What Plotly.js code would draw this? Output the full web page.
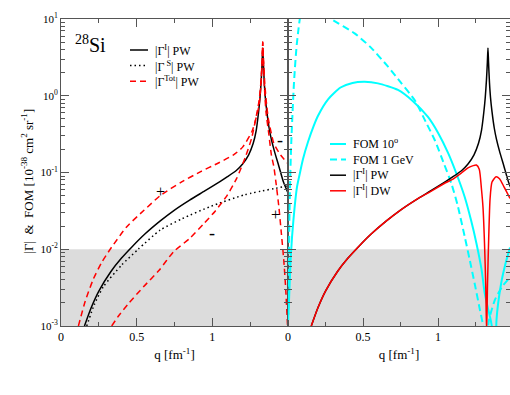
<!DOCTYPE html>
<html>
<head>
<meta charset="utf-8">
<script src="https://cdn.plot.ly/plotly-3.0.1.min.js"></script>
<style>
  body { margin: 0; background: #fff; }
  #myDiv { width: 510px; height: 395px; }
</style>
</head>
<body>
<div id="myDiv"></div>
<script>
// |Gamma^I| plane wave (both panels)
var qPW = [0.155, 0.2, 0.25, 0.33, 0.4, 0.47, 0.556, 0.656, 0.75, 0.85, 0.95, 1.05, 1.1, 1.16, 1.2, 1.24, 1.27, 1.29,
  1.305, 1.315, 1.323, 1.329, 1.333, 1.337, 1.343, 1.35, 1.36, 1.375, 1.39, 1.41, 1.44, 1.47, 1.5];
var gPW = [0.001, 0.00174, 0.00285, 0.00513, 0.00767, 0.0108, 0.0159, 0.0234, 0.0324, 0.0437, 0.0575, 0.0759, 0.0881, 0.107, 0.129, 0.17, 0.24, 0.355,
  0.6, 0.95, 1.6, 2.7, 4.2, 2.7, 1.5, 0.95, 0.62, 0.38, 0.27, 0.19, 0.12, 0.075, 0.054];

// |Gamma^S| plane wave
var qS = [0.17, 0.22, 0.28, 0.4, 0.51, 0.656, 0.8, 0.987, 1.21, 1.5];
var gS = [0.001, 0.0019, 0.00325, 0.0062, 0.01, 0.0178, 0.025, 0.036, 0.051, 0.067];

// |Gamma^Tot| plane wave, "+" branch
var qTotP = [0.115, 0.16, 0.214, 0.27, 0.325, 0.435, 0.55, 0.656, 0.8, 0.92, 1.04, 1.14, 1.2, 1.263, 1.307, 1.32, 1.328, 1.333,
  1.338, 1.345, 1.355, 1.373, 1.39, 1.406, 1.42, 1.44, 1.455, 1.472, 1.485, 1.495, 1.5];
var gTotP = [0.001, 0.0021, 0.0041, 0.0068, 0.01, 0.0197, 0.0324, 0.05, 0.0759, 0.102, 0.133, 0.17, 0.214, 0.347, 0.72, 1.3, 2.6, 5.0,
  2.6, 1.2, 0.6, 0.32, 0.17, 0.12, 0.075, 0.035, 0.017, 0.0072, 0.003, 0.0012, 0.0008];

// |Gamma^Tot| plane wave, "-" branch
var qTotM = [0.335, 0.38, 0.45, 0.545, 0.65, 0.744, 0.85, 0.942, 1.02, 1.097, 1.16, 1.218, 1.26, 1.285, 1.31, 1.322, 1.329, 1.333,
  1.338, 1.345, 1.355, 1.37, 1.39, 1.406, 1.45, 1.5];
var gTotM = [0.001, 0.00135, 0.002, 0.00324, 0.00537, 0.0093, 0.0138, 0.0214, 0.0316, 0.0501, 0.0832, 0.158, 0.282, 0.479, 0.891, 1.585, 2.82, 5.0,
  3.0, 1.6, 0.9, 0.5, 0.32, 0.24, 0.17, 0.13];

// FOM 10 deg
var qF10 = [0.003, 0.02, 0.036, 0.06, 0.08, 0.1, 0.133, 0.17, 0.2, 0.267, 0.35, 0.43, 0.511, 0.6, 0.733, 0.833, 0.933, 1.0, 1.067,
  1.12, 1.178, 1.22, 1.256, 1.29, 1.311, 1.33, 1.355, 1.37, 1.378, 1.385, 1.39, 1.42, 1.45, 1.48];
var fF10 = [0.0014, 0.009, 0.024, 0.065, 0.1, 0.15, 0.25, 0.4, 0.55, 0.9, 1.28, 1.47, 1.52, 1.45, 1.19, 0.85, 0.53, 0.33, 0.18,
  0.1, 0.048, 0.024, 0.012, 0.0055, 0.0027, 0.0018, 0.0011, 0.0006, 0.00001, 0.0001, 0.0012, 0.0035, 0.0065, 0.0105];

// FOM 1 GeV
var qF1 = [0.002, 0.01, 0.02, 0.04, 0.06, 0.1, 0.15, 0.2, 0.289, 0.444, 0.55, 0.667, 0.75, 0.844, 0.92, 0.978, 1.04,
  1.089, 1.13, 1.178, 1.21, 1.244, 1.28, 1.3, 1.312, 1.325, 1.34, 1.38, 1.43, 1.48];
var fF1 = [0.0012, 0.03, 0.2, 1.5, 5, 15, 16, 14.5, 10, 6.5, 4.3, 2.39, 1.5, 0.88, 0.45, 0.265, 0.13,
  0.072, 0.038, 0.0146, 0.0075, 0.0036, 0.0016, 0.001, 0.00001, 0.0006, 0.0012, 0.0022, 0.0033, 0.0043];

// |Gamma^I| distorted wave
var qDW = [0.155, 0.2, 0.25, 0.33, 0.4, 0.47, 0.556, 0.656, 0.75, 0.85, 0.95, 1.05, 1.1, 1.16, 1.2, 1.235, 1.256, 1.275,
  1.29, 1.3, 1.31, 1.318, 1.324, 1.33, 1.338, 1.347, 1.36, 1.387, 1.41, 1.44, 1.48];
var gDW = [0.001, 0.00174, 0.00285, 0.00513, 0.00767, 0.0108, 0.0159, 0.0234, 0.0324, 0.0437, 0.0565, 0.0735, 0.082, 0.1, 0.115, 0.123, 0.125, 0.11,
  0.06, 0.035, 0.012, 0.0035, 0.0008, 0.0035, 0.014, 0.045, 0.075, 0.088, 0.083, 0.065, 0.046];

var yTickVals = [0.001, 0.01, 0.1, 1, 10];
var yTickText = ['10<sup>-3</sup>', '10<sup>-2</sup>', '10<sup>-1</sup>', '10<sup>0</sup>', '10<sup>1</sup>'];

// legend labels
var leftNames = ['|Γ<sup>I</sup>| PW', '|Γ<sup> S</sup>| PW', '|Γ<sup>Tot</sup>| PW'];
var rightNames = ['FOM 10<sup>o</sup>', 'FOM 1 GeV', '|Γ<sup>I</sup>| PW', '|Γ<sup>I</sup>| DW'];

var serif = 'Liberation Serif, Times New Roman, serif';
var axisCol = '#555';

var stBlack = { color: 'black', width: 1.5 };
var stDot = { color: 'black', width: 1.5, dash: '1.5px,3px' };
var stRedDash = { color: 'red', width: 1.5, dash: '6px,4px' };
var stCyan = { color: '#00ffff', width: 2 };
var stCyanDash = { color: '#00ffff', width: 2, dash: '7px,4px' };
var stRed = { color: 'red', width: 1.5 };

function tr(x, y, ax, st) {
  return { x: x, y: y, xaxis: 'x' + ax, yaxis: 'y' + ax, mode: 'lines', showlegend: false,
    line: Object.assign({ shape: 'spline', smoothing: 0.6 }, st) };
}

var data = [
  tr(qPW, gPW, '', stBlack),
  tr(qS, gS, '', stDot),
  tr(qTotP, gTotP, '', stRedDash),
  tr(qTotM, gTotM, '', stRedDash),
  tr(qF10, fF10, '2', stCyan),
  tr(qF1, fF1, '2', stCyanDash),
  tr(qPW, gPW, '2', stBlack),
  tr(qDW, gDW, '2', stRed)
];

// hand-made legends (short sample lines like the original)
var W = 449, H = 307, LH = 15.6;
function px(x) { return (x - 61) / W; }
function py(y) { return (326 - y) / H; }
var shapes = [{
  type: 'rect', xref: 'paper', yref: 'paper', x0: 0, x1: 1, y0: 0, y1: 0.25,
  fillcolor: '#dcdcdc', line: { width: 0 }, layer: 'below'
}];
var annotations = [];
function legendBlock(x0, x1, yTop, styles, names) {
  for (var i = 0; i < styles.length; i++) {
    var y = yTop + i * LH;
    shapes.push({ type: 'line', xref: 'paper', yref: 'paper', x0: px(x0), x1: px(x1), y0: py(y), y1: py(y),
      line: { color: styles[i].color, width: styles[i].width, dash: styles[i].dash || 'solid' } });
  }
  var mid = yTop + (styles.length - 1) * LH / 2;
  annotations.push({ text: names.join('<br>'), align: 'left', xref: 'paper', yref: 'paper',
    x: px(x1 + 5), y: py(mid), xanchor: 'left', yanchor: 'middle',
    showarrow: false, font: { family: serif, size: 12, color: 'black' } });
}
legendBlock(130, 148, 50, [stBlack, stDot, stRedDash], leftNames);
legendBlock(330, 346, 144, [stCyan, stCyanDash, stBlack, stRed], rightNames);

annotations.push(
  { text: '|Γ|  &  FOM [10<sup>-38</sup> cm<sup>2</sup> sr<sup>-1</sup>]', textangle: -90,
    xref: 'paper', yref: 'paper', x: px(27), y: 0.47, xanchor: 'center', yanchor: 'middle',
    showarrow: false, font: { family: serif, size: 13, color: 'black' } },
  { text: '<sup>28</sup>Si', xref: 'paper', yref: 'paper', x: 0.027, y: 0.964, xanchor: 'left', yanchor: 'top',
    showarrow: false, font: { family: serif, size: 20, color: 'black' } },
  { text: '+', xref: 'x', yref: 'y', x: 0.656, y: -1.25, showarrow: false, font: { family: serif, size: 16, color: 'black' } },
  { text: '-', xref: 'x', yref: 'y', x: 1.0, y: -1.79, showarrow: false, font: { family: serif, size: 18, color: 'black' } },
  { text: '+', xref: 'x', yref: 'y', x: 1.417, y: -1.55, showarrow: false, font: { family: serif, size: 16, color: 'black' } },
  { text: '-', xref: 'x', yref: 'y', x: 1.446, y: -0.58, showarrow: false, font: { family: serif, size: 18, color: 'black' } }
);

var xBase = {
  showline: true, linecolor: axisCol, linewidth: 1, mirror: 'ticks',
  ticks: 'inside', ticklen: 8, tickcolor: axisCol, zeroline: false, showgrid: false,
  minor: { tickvals: [0.25, 0.75, 1.25], ticks: 'inside', ticklen: 4, tickcolor: axisCol, showgrid: false },
  tickfont: { family: serif, size: 12, color: 'black' },
  title: { text: 'q [fm<sup>-1</sup>]', font: { family: serif, size: 13, color: 'black' }, standoff: 6 }
};
var yBase = {
  type: 'log', range: [-3, 1], showline: true, linecolor: axisCol, linewidth: 1, mirror: 'ticks',
  ticks: 'inside', ticklen: 8, tickcolor: axisCol, zeroline: false, showgrid: false,
  tickvals: yTickVals, ticktext: yTickText,
  minor: { dtick: 'D1', ticks: 'inside', ticklen: 4, tickcolor: axisCol, showgrid: false },
  tickfont: { family: serif, size: 11, color: 'black' }
};

var layout = {
  width: 510, height: 395,
  margin: { l: 61, r: 0, t: 19, b: 69 },
  paper_bgcolor: 'white', plot_bgcolor: 'white',
  showlegend: false,
  xaxis: Object.assign({}, xBase, { domain: [0, 0.5056], range: [0, 1.5], anchor: 'y', tickvals: [0, 0.5, 1] }),
  xaxis2: Object.assign({}, xBase, { domain: [0.5056, 1], range: [0, 1.48], anchor: 'y2', tickvals: [0, 0.5, 1, 1.5] }),
  yaxis: Object.assign({}, yBase, { anchor: 'x' }),
  yaxis2: Object.assign({}, yBase, { anchor: 'x2', showticklabels: false }),
  shapes: shapes,
  annotations: annotations
};

Plotly.newPlot('myDiv', data, layout, { displayModeBar: false, staticPlot: true });
</script>
</body>
</html>
